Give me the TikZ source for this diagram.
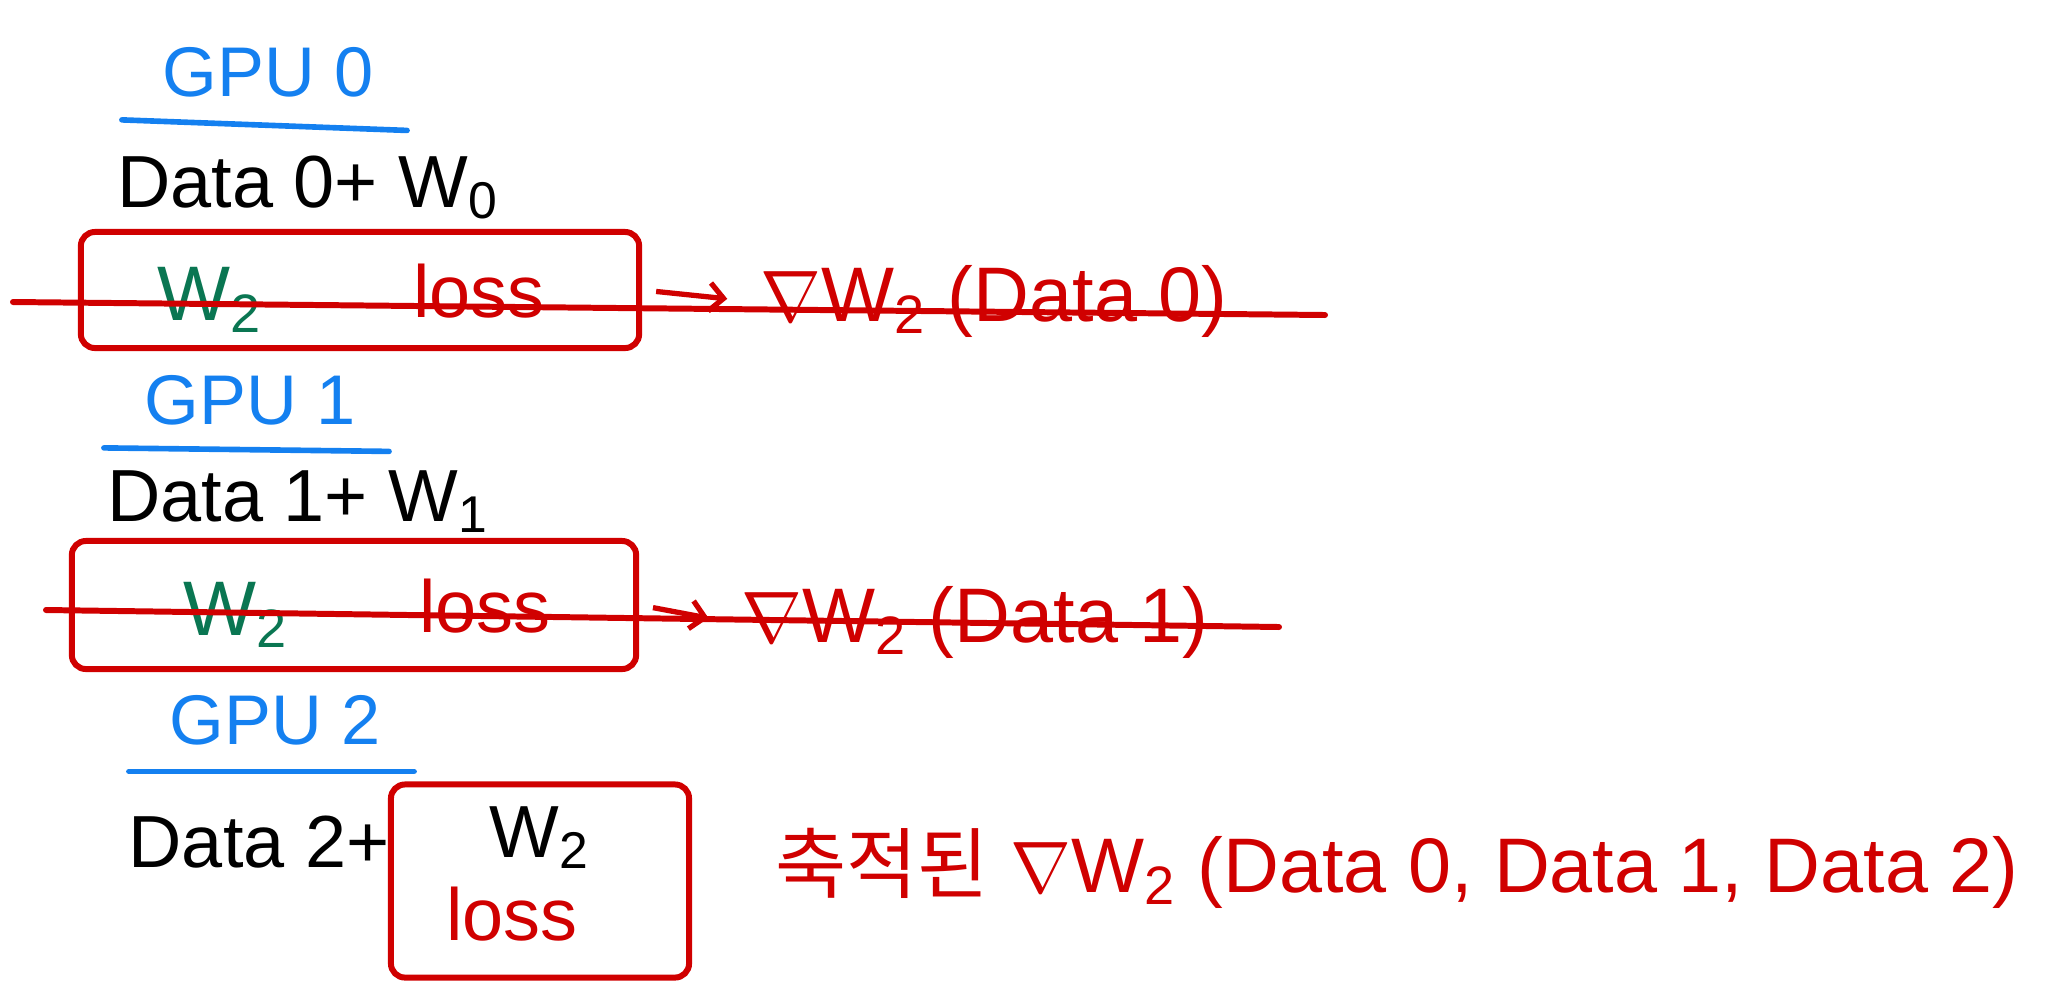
\documentclass[tikz,border=0pt]{standalone}
\usepackage{fontspec}
\usetikzlibrary{arrows.meta}
\setmainfont{Liberation Sans}
\newfontfamily\krfont{Noto Sans CJK KR}

\definecolor{penred}{RGB}{208,0,0}
\definecolor{pengreen}{RGB}{10,118,82}
\definecolor{penblue}{RGB}{20,128,240}

\tikzset{
  gpulabel/.style={text=penblue, font=\fontsize{20}{24}\selectfont},
  datalabel/.style={text=black, font=\fontsize{21}{25}\selectfont},
  weightlabel/.style={text=pengreen, font=\fontsize{22}{26}\selectfont},
  losslabel/.style={text=penred, font=\fontsize{21}{25}\selectfont},
  gradlabel/.style={text=penred, font=\fontsize{22}{26}\selectfont},
  lossbox/.style={draw=penred, line width=1.7pt, rounded corners=4pt, inner sep=0pt},
  underline/.style={draw=penblue, line width=1.6pt, line cap=round},
  strike/.style={draw=penred, line width=1.7pt, line cap=round},
  flow/.style={draw=penred, line width=1.5pt, -{Straight Barb[length=4pt]}, shorten <=4pt, shorten >=6pt}
}

\begin{document}
\begin{tikzpicture}[x=0.01cm, y=-0.01cm]
    \useasboundingbox (0,0) rectangle (2057,999);

    \node[gpulabel] (gA) at (268,72) {GPU 0};
    \draw[underline] ([xshift=-8pt,yshift=-3pt]gA.south west) -- ([xshift=6pt,yshift=-6pt]gA.south east);
    \node[datalabel] (dA) at (308,187) {Data 0+ W\textsubscript{0}};
    \node[lossbox, minimum width=5.58cm, minimum height=1.16cm] (bA) at (360,290) {};
    \node[weightlabel] (wA) at (210,300) {W\textsubscript{2}};
    \node[losslabel] (lA) at (479,291) {loss};
    \node[gradlabel] (nA) at (994,301) {$\nabla$W\textsubscript{2} (Data 0)};
    \coordinate (sA) at (13,302);
    \coordinate (eA) at (1325,315);
    \draw[strike] (sA) -- (eA);
    \draw[flow] (bA.east) -- (nA.west);

    \node[gpulabel] (gB) at (250,400) {GPU 1};
    \draw[underline] ([xshift=-8pt,yshift=-3pt]gB.south west) -- ([xshift=6pt,yshift=-4pt]gB.south east);
    \node[datalabel] (dB) at (298,502) {Data 1+ W\textsubscript{1}};
    \node[lossbox, minimum width=5.64cm, minimum height=1.28cm] (bB) at (354,605) {};
    \node[weightlabel] (wB) at (236,615) {W\textsubscript{2}};
    \node[losslabel] (lB) at (485,606) {loss};
    \node[gradlabel] (nB) at (975,622) {$\nabla$W\textsubscript{2} (Data 1)};
    \coordinate (sB) at (46,610);
    \coordinate (eB) at (1279,627);
    \draw[strike] (sB) -- (eB);
    \draw[flow] (bB.east) -- (nB.west);

    \node[gpulabel] (gC) at (275,720) {GPU 2};
    \draw[underline] ([xshift=-8pt,yshift=-4pt]gC.south west) -- ([xshift=6pt,yshift=-4pt]gC.south east);
    \node[datalabel] (dC) at (259,842) {Data 2+};
    \node[lossbox, minimum width=2.98cm, minimum height=1.93cm] (bC) at (540,881) {};
    \node[datalabel, inner sep=1pt] (wC) at (540,838) {W\textsubscript{2}};
    \node[losslabel, inner sep=1pt] (lC) at (512,914) {loss};

    \node[gradlabel] (acc) at (1397,868) {{\krfont 축적된} $\nabla$W\textsubscript{2} (Data 0, Data 1, Data 2)};
\end{tikzpicture}
\end{document}
